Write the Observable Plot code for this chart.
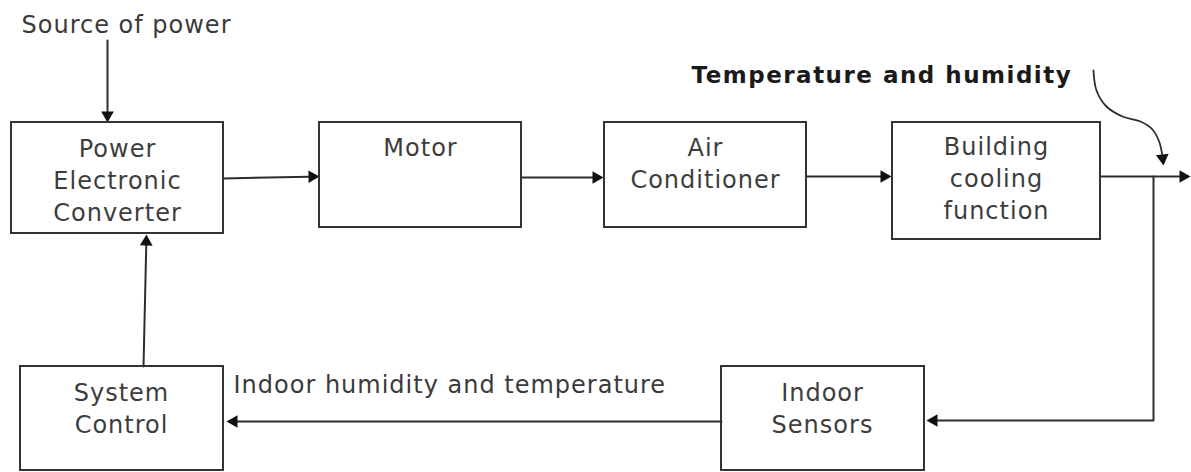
<!DOCTYPE html>
<html><head><meta charset="utf-8">
<script src="https://cdn.jsdelivr.net/npm/d3@7"></script>
<script src="https://cdn.jsdelivr.net/npm/@observablehq/plot@0.6"></script>
<style>
html,body{margin:0;padding:0;background:#fff;}
#chart svg text{letter-spacing:1px;}
#chart svg g[font-weight="bold"] text, #chart svg text[font-weight="bold"]{letter-spacing:1.5px;}
</style></head><body><div id="chart"></div>
<script>
// Blocks of the diagram
const boxLabels = ["Power\nElectronic\nConverter","Motor","Air\nConditioner","Building\ncooling\nfunction","System\nControl","Indoor\nSensors"];
const boxLeft   = [11, 319, 604, 892, 20, 721];
const boxRight  = [223, 521, 806, 1100, 223, 924];
const boxTop    = [122, 122, 122, 122, 366, 366];
const boxBottom = [233, 227, 227, 239, 470, 470];
const labelX    = [117, 420, 705, 996, 121, 822];
const labelBase = [220, 155, 187, 218, 432, 432]; // baseline of last line

// Free-standing annotations
const noteTexts = ["Source of power", "Temperature and humidity", "Indoor humidity and temperature"];
const noteX     = [21, 691, 233];
const noteY     = [32, 82, 392];
const noteBold  = [false, true, false];

// Connectors (polylines ending at the arrow tip)
const linkIds = ["source","pec-motor","motor-ac","ac-bcf","bcf-out","loop","sensors-control","control-pec"];
const linkPts = [
  [[107,40],[107,122]],
  [[223,178],[319,176]],
  [[521,177],[603,177]],
  [[806,176],[891,176]],
  [[1100,176],[1190,176]],
  [[1153,176],[1153,420],[926,420]],
  [[721,421],[226,421]],
  [[143,366],[146,234]]
];
// Curved disturbance arrow "Temperature and humidity"
const curvePts = [[1093,70],[1096,90],[1106,106],[1122,116],[1140,121],[1152,129],[1159,142],[1162,156],[1163,165]];

const boxes = boxLabels.map((label,i)=>({label, x1:boxLeft[i], x2:boxRight[i], y1:boxTop[i], y2:boxBottom[i], tx:labelX[i], ty:labelBase[i]}));
const notes = noteTexts.map((t,i)=>({t, x:noteX[i], y:noteY[i], bold:noteBold[i]}));

const HEAD = 11; // arrowhead length
function headFor(pts){
  const [x1,y1]=pts[pts.length-2], [x2,y2]=pts[pts.length-1];
  const dx=x2-x1, dy=y2-y1, L=Math.hypot(dx,dy);
  const ux=dx/L, uy=dy/L;
  const c = HEAD*2/3;
  return {x:x2-ux*c, y:y2-uy*c, rotate: Math.atan2(dy,dx)*180/Math.PI+90, bx:x2-ux*(HEAD-1), by:y2-uy*(HEAD-1)};
}
const segRows = [];
const heads = [];
linkPts.forEach((pts,k)=>{
  const h = headFor(pts);
  heads.push(h);
  pts.forEach((p,j)=>{
    if (j===pts.length-1) segRows.push({id:linkIds[k], x:h.bx, y:h.by});
    else segRows.push({id:linkIds[k], x:p[0], y:p[1]});
  });
});
const ch = headFor(curvePts);
heads.push(ch);
const curveRows = curvePts.slice(0,-1).map(p=>({x:p[0],y:p[1]}));
curveRows.push({x:ch.bx, y:ch.by});

const r = Math.sqrt((Math.pow(HEAD/3,2)*3*Math.sqrt(3))/Math.PI);

const chart = Plot.plot({
  width: 1191, height: 472,
  margin: 0,
  style: {background:"#fff", fontFamily:"'DejaVu Sans', Verdana, sans-serif"},
  x: {domain:[0,1191], range:[0,1191], axis:null},
  y: {domain:[0,472], range:[0,472], axis:null},
  marks: [
    Plot.line(segRows, {x:"x", y:"y", z:"id", stroke:"#2e2e2e", strokeWidth:2}),
    Plot.line(curveRows, {x:"x", y:"y", curve:"catmull-rom", stroke:"#2e2e2e", strokeWidth:1.8}),
    Plot.dot(heads, {x:"x", y:"y", rotate:"rotate", symbol:"triangle", r, fill:"#111", stroke:null}),
    Plot.rect(boxes, {x1:"x1", x2:"x2", y1:"y1", y2:"y2", fill:"none", stroke:"#333", strokeWidth:2}),
    Plot.text(boxes, {x:"tx", y:"ty", text:"label", textAnchor:"middle", lineAnchor:"bottom", lineHeight:1.33, fontSize:24, fill:"#3d3d3d"}),
    Plot.text(notes.filter(d=>!d.bold), {x:"x", y:"y", text:"t", textAnchor:"start", lineAnchor:"bottom", fontSize:24, fill:"#3a3a3a"}),
    Plot.text(notes.filter(d=>d.bold), {x:"x", y:"y", text:"t", textAnchor:"start", lineAnchor:"bottom", fontSize:23, fontWeight:"bold", fill:"#1a1a1a"})
  ]
});
document.getElementById("chart").appendChild(chart);
</script></body></html>
